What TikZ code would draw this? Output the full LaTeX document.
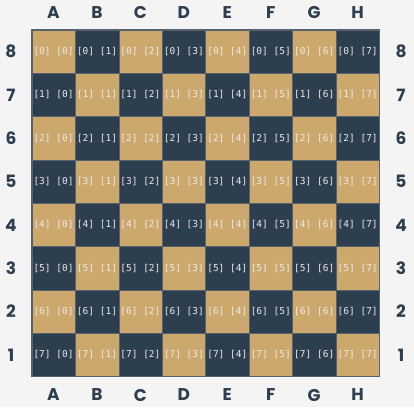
\documentclass[tikz,border=0pt]{standalone}
\usepackage{fontspec}
\setmainfont{Poppins}
\newfontfamily\cellfont{DejaVu Sans Mono}
\definecolor{bgc}{HTML}{F4F4F4}
\definecolor{tanc}{HTML}{CDA86C}
\definecolor{darkc}{HTML}{2D3E4F}
\definecolor{edgec}{HTML}{56626E}
\definecolor{txtc}{HTML}{EAEAEA}
\definecolor{labc}{HTML}{2C3E50}
\begin{document}
\begin{tikzpicture}[x=1pt,y=-1pt,
  sq/.style={minimum width=43.45pt,minimum height=43.35pt,inner sep=0pt,outer sep=0pt,
    draw=edgec,line width=0.3pt,
    text=txtc,font=\cellfont\fontsize{9.5}{10}\selectfont},
  lab/.style={text=labc,font=\bfseries\fontsize{17}{18}\selectfont,inner sep=0pt}]
\useasboundingbox[fill=bgc] (0,0) rectangle (414,407);
\foreach \r in {0,...,7}{
  \foreach \c in {0,...,7}{
    \pgfmathtruncatemacro{\parity}{mod(\r+\c,2)}
    \ifnum\parity=0 \def\cc{tanc}\else\def\cc{darkc}\fi
    \node[sq,fill=\cc] (s\r\c) at ({31.8+21.72+43.45*\c},{29.8+21.67+43.35*\r}) {[\r] [\c]};
  }
}
\draw[edgec,line width=1.6pt] (s00.north west) rectangle (s77.south east);
\foreach \l [count=\i from 0] in {A,B,C,D,E,F,G,H}{
  \node[lab] (ct\i) at ({53.5+43.45*\i},13) {\l};
  \node[lab] (cb\i) at ({53.5+43.45*\i},395) {\l};
}
\foreach \n [count=\i from 0] in {8,7,6,5,4,3,2,1}{
  \node[lab] (rl\i) at (11,{51.5+43.35*\i}) {\n};
  \node[lab] (rr\i) at (401,{51.5+43.35*\i}) {\n};
}
\end{tikzpicture}
\end{document}
